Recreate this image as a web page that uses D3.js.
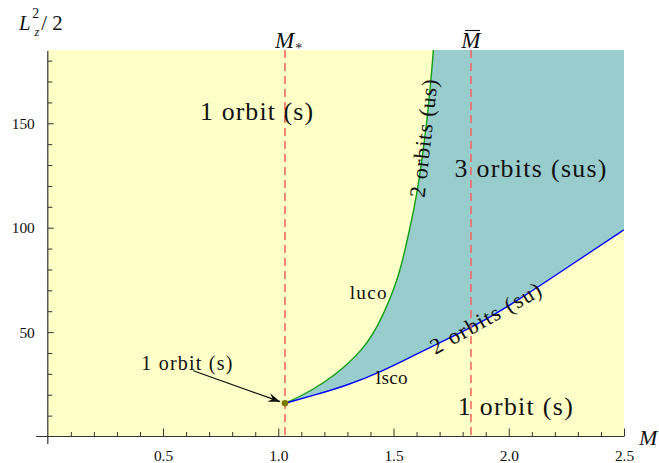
<!DOCTYPE html>
<html>
<head>
<meta charset="utf-8">
<script src="https://cdn.jsdelivr.net/npm/d3@7"></script>
<style>
  html, body { margin: 0; padding: 0; background: #fff; }
  svg { display: block; }
</style>
</head>
<body>
<svg id="chart" width="659" height="463"></svg>
<script>
// Last unstable circular orbit (luco) boundary
const lucoM = [1.029, 1.095, 1.196, 1.290, 1.377, 1.438, 1.483, 1.521, 1.550, 1.572, 1.598, 1.636, 1.659, 1.673];
const lucoL = [15.9, 19.1, 25.5, 33.4, 43.0, 54.2, 65.4, 76.5, 89.3, 100.5, 113.3, 142.0, 166.0, 185.1];
// Last stable circular orbit (lsco) boundary
const lscoM = [1.029, 1.15, 1.30, 1.45, 1.60, 1.75, 1.90, 2.05, 2.20, 2.35, 2.50];
const lscoL = [15.9, 19.6, 24.5, 31.2, 39.5, 47.5, 55.8, 66.0, 77.0, 88.0, 99.0];

// Special masses (vertical markers) and the cusp point
const markerM = [1.029, 1.836];
const cuspM = [1.029];
const cuspL = [15.9];

// Axis ticks
const xMajor = [0.5, 1.0, 1.5, 2.0, 2.5];
const xMinor = [0.1, 0.2, 0.3, 0.4, 0.6, 0.7, 0.8, 0.9, 1.1, 1.2, 1.3, 1.4, 1.6, 1.7, 1.8, 1.9, 2.1, 2.2, 2.3, 2.4];
const yMajor = [50, 100, 150];
const yMinor = [10, 20, 30, 40, 60, 70, 80, 90, 110, 120, 130, 140, 160, 170, 180];

// Region labels: text, anchor (M, L), rotation
const labelText = ["1 orbit (s)", "3 orbits (sus)", "1 orbit (s)", "2 orbits (us)", "2 orbits (su)"];
const labelM = [0.908, 2.097, 2.031, 1.631, 1.902];
const labelL = [151.8, 124.4, 10.3, 143.0, 56.8];
const labelRot = [0, 0, 0, -83.7, -29.3];

// Serif stack; cap height of whichever face is used sets the font sizes
const FONT = '"Liberation Serif", "DejaVu Serif", "Noto Serif", "Times New Roman", Times, serif';
const capRatio = (() => {
  const ctx = document.createElement("canvas").getContext("2d");
  ctx.font = "100px " + FONT;
  const m = ctx.measureText("H");
  const r = m.actualBoundingBoxAscent / 100;
  return r > 0.4 && r < 0.9 ? r : 0.68;
})();
const fs = cap => cap / capRatio;   // font size from cap height in px

const svg = d3.select("#chart").style("font-family", FONT);
const x = d3.scaleLinear().domain([0, 2.5]).range([47.8, 624]);
const y = d3.scaleLinear().domain([0, 185.1]).range([436.5, 50]);

const [x0, x1] = x.range();
const [y0, y1] = y.range();

// Stretch letter spacing so a label spans the given width
function fit(sel, width) {
  const node = sel.node();
  const n = sel.text().length;
  const w = node.getComputedTextLength();
  sel.style("letter-spacing", ((width - w) / Math.max(1, n - 1)) + "px");
  return sel;
}

// Plot background (single stable orbit region)
svg.append("rect")
  .attr("x", x0).attr("y", y1)
  .attr("width", x1 - x0).attr("height", y0 - y1)
  .attr("fill", "#ffffc8");

const luco = lucoM.map((m, i) => [m, lucoL[i]]);
const lsco = lscoM.map((m, i) => [m, lscoL[i]]);

const line = d3.line().x(d => x(d[0])).y(d => y(d[1])).curve(d3.curveBasis);

// Multi-orbit region between luco and lsco
const topL = y.domain()[1];
const lastLsco = lsco[lsco.length - 1];
const regionPath = line(luco)
  + "L" + x(2.5) + "," + y(topL)
  + "L" + x(lastLsco[0]) + "," + y(lastLsco[1])
  + line(lsco.slice().reverse()).replace(/^M/, "L") + "Z";

svg.append("defs").append("clipPath").attr("id", "plotclip")
  .append("rect").attr("x", x0).attr("y", y1).attr("width", x1 - x0).attr("height", y0 - y1);

const plot = svg.append("g").attr("clip-path", "url(#plotclip)");

plot.append("path").attr("d", regionPath).attr("fill", "#99cccc");

plot.append("path").attr("d", line(luco))
  .attr("fill", "none").attr("stroke", "#10a010").attr("stroke-width", 1.4);
plot.append("path").attr("d", line(lsco))
  .attr("fill", "none").attr("stroke", "#0000ff").attr("stroke-width", 1.4);

// Vertical dashed markers
plot.selectAll("line.marker").data(markerM).enter().append("line")
  .attr("class", "marker")
  .attr("x1", d => x(d)).attr("x2", d => x(d))
  .attr("y1", y1).attr("y2", y0)
  .attr("stroke", "#f06a60").attr("stroke-width", 1.6)
  .attr("stroke-dasharray", "8,5");

// Axes
const axisColor = "#333";
const gx = svg.append("g").attr("transform", `translate(0,${y0})`);
gx.call(d3.axisBottom(x).tickValues(xMinor).tickSize(-4.5).tickFormat(""));
gx.call(g => g.select(".domain").remove());
const gxMaj = svg.append("g").attr("transform", `translate(0,${y0})`);
gxMaj.call(d3.axisBottom(x).tickValues(xMajor).tickSize(-8).tickPadding(14)
  .tickFormat(d3.format(".1f")));
gxMaj.call(g => g.select(".domain").remove());

const gy = svg.append("g").attr("transform", `translate(${x0},0)`);
gy.call(d3.axisLeft(y).tickValues(yMinor).tickSize(-4.5).tickFormat(""));
gy.call(g => g.select(".domain").remove());
const gyMaj = svg.append("g").attr("transform", `translate(${x0},0)`);
gyMaj.call(d3.axisLeft(y).tickValues(yMajor).tickSize(-6).tickPadding(13)
  .tickFormat(d3.format("d")));
gyMaj.call(g => g.select(".domain").remove());

svg.selectAll("g").attr("font-family", null);
svg.selectAll(".tick line").attr("stroke", axisColor).attr("stroke-width", 1);
svg.selectAll(".tick text")
  .style("font-family", FONT)
  .style("font-size", fs(10) + "px").attr("fill", "#111");

// Axis lines extending past the origin
svg.append("line").attr("x1", 36).attr("x2", x1).attr("y1", y0).attr("y2", y0)
  .attr("stroke", axisColor).attr("stroke-width", 1.2);
svg.append("line").attr("x1", x0).attr("x2", x0).attr("y1", y1 + 1).attr("y2", 444)
  .attr("stroke", axisColor).attr("stroke-width", 1.2);

// Axis titles
const yTitle = svg.append("text").attr("x", 19).attr("y", 30)
  .style("font-size", fs(13.5) + "px").attr("fill", "#111");
yTitle.append("tspan").attr("font-style", "italic").text("L");
yTitle.append("tspan").attr("font-style", "italic").style("font-size", fs(8) + "px")
  .attr("dx", 4).attr("dy", 6).text("z");
yTitle.append("tspan").style("font-size", fs(9) + "px").attr("dx", -7).attr("dy", -18).text("2");
yTitle.append("tspan").attr("dx", 2).attr("dy", 12).text("/ 2");

svg.append("text").attr("x", 639).attr("y", 445).attr("fill", "#111")
  .attr("font-style", "italic").style("font-size", fs(14.3) + "px").text("M");

// Marker labels above the plot
const mStarLabel = svg.append("text").attr("x", x(markerM[0]) - 10).attr("y", 47.7)
  .style("font-size", fs(15) + "px").attr("fill", "#111");
mStarLabel.append("tspan").attr("font-style", "italic").text("M");
mStarLabel.append("tspan").style("font-size", fs(9) + "px").attr("dx", 1).attr("dy", 5).text("*");

const mBarX = x(markerM[1]);
svg.append("text").attr("x", mBarX).attr("y", 47.7).attr("text-anchor", "middle").attr("fill", "#111")
  .attr("font-style", "italic").style("font-size", fs(15) + "px").text("M");
svg.append("line").attr("x1", mBarX - 6).attr("x2", mBarX + 9)
  .attr("y1", 30.5).attr("y2", 30.5).attr("stroke", "#111").attr("stroke-width", 1.1);

// Region labels
const labelCap = [16.8, 16.8, 16.8, 14.5, 14.5];
const labelWidth = [113, 152, 115, 119, 124];
labelText.forEach((t, i) => {
  const px = x(labelM[i]), py = y(labelL[i]);
  const el = svg.append("text")
    .attr("transform", `translate(${px},${py}) rotate(${labelRot[i]})`)
    .attr("text-anchor", "middle").attr("fill", "#111")
    .attr("dominant-baseline", labelRot[i] ? "central" : "alphabetic")
    .style("font-size", fs(labelCap[i]) + "px")
    .text(t);
  fit(el, labelWidth[i]);
});

// Curve names
fit(svg.append("text").attr("x", x(1.393)).attr("y", y(65.7)).attr("text-anchor", "middle")
  .attr("fill", "#111").style("font-size", fs(12.5) + "px").text("luco"), 37);
fit(svg.append("text").attr("x", x(1.493)).attr("y", y(25.1)).attr("text-anchor", "middle")
  .attr("fill", "#111").style("font-size", fs(12.5) + "px").text("lsco"), 32);

// Annotation with arrow pointing to the cusp
fit(svg.append("text").attr("x", x(0.606)).attr("y", y(31.8)).attr("text-anchor", "middle")
  .attr("fill", "#111").style("font-size", fs(13) + "px").text("1 orbit (s)"), 91);

const ax0 = x(0.631), ay0 = y(31.5), ax1 = x(1.008), ay1 = y(16.7);
svg.append("line").attr("x1", ax0).attr("y1", ay0).attr("x2", ax1).attr("y2", ay1)
  .attr("stroke", "#111").attr("stroke-width", 1.2);
const ang = Math.atan2(ay1 - ay0, ax1 - ax0) * 180 / Math.PI;
svg.append("path")
  .attr("d", "M0,0 L-12,-4.5 L-8,0 L-12,4.5 Z")
  .attr("transform", `translate(${ax1},${ay1}) rotate(${ang})`)
  .attr("fill", "#111");

// Cusp point
svg.selectAll("circle.cusp").data(cuspM).enter().append("circle")
  .attr("class", "cusp")
  .attr("cx", d => x(d)).attr("cy", (d, i) => y(cuspL[i]))
  .attr("r", 3.3).attr("fill", "#7a7a00");
</script>
</body>
</html>
